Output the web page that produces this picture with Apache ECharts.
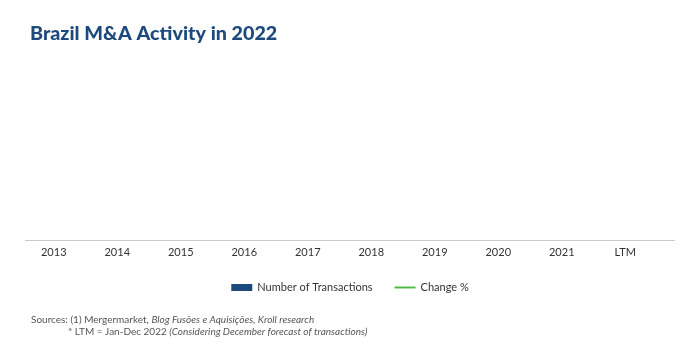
<!DOCTYPE html>
<html>
<head>
<meta charset="utf-8">
<script src="https://cdn.jsdelivr.net/npm/echarts@6/dist/echarts.min.js"></script>
<style>html,body{margin:0;padding:0;background:#fff}#c{width:700px;height:364px}</style>
</head>
<body>
<div id="c"></div>
<script>
const categories = ['2013','2014','2015','2016','2017','2018','2019','2020','2021','LTM'];
// No marks are visible in the reference: values are not shown
const transactions = [null,null,null,null,null,null,null,null,null,null];
const changePct = [null,null,null,null,null,null,null,null,null,null];
const titleText = 'Brazil M&A Activity in 2022';

const chart = echarts.init(document.getElementById('c'));
chart.setOption({
  backgroundColor: '#ffffff',
  animation: false,
  title: [{
    text: titleText,
    left: 25, top: 19,
    textStyle: {fontFamily: 'Lato', fontWeight: 900, fontSize: 19.7, color: '#1d4a7c'}
  },{
    left: 26, top: 309,
    text: '{n|Sources: (1) Mergermarket, }{i|Blog Fusões e Aquisições, Kroll research}\n{p|}{n|* LTM = Jan-Dec 2022 }{i|(Considering December forecast of transactions)}',
    textStyle: {
      fontWeight: 'normal',
      lineHeight: 12,
      rich: {
        n: {fontFamily: 'Lato', fontSize: 10, fontWeight: 'normal', color: '#555', lineHeight: 12},
        i: {fontFamily: 'Lato', fontSize: 10, fontWeight: 'normal', fontStyle: 'italic', color: '#555', lineHeight: 12},
        p: {width: 37, lineHeight: 12}
      }
    }
  }],
  legend: {
    left: 'center', top: 277,
    itemGap: 22,
    textStyle: {fontFamily: 'Lato', fontSize: 11, color: '#333'},
    data: [
      {name: 'Number of Transactions', icon: 'rect', itemStyle: {color: '#1d4a7c'}},
      {name: 'Change %', icon: 'path://M0,0 L100,0 L100,9 L0,9 Z', itemStyle: {color: '#4cb944'}}
    ],
    itemWidth: 21, itemHeight: 7
  },
  grid: {left: 22, right: 43, top: 60, bottom: 124},
  xAxis: {
    type: 'category', data: categories,
    axisLine: {show: false},
    axisTick: {show: false},
    axisLabel: {fontFamily: 'Lato', fontSize: 11, color: '#333', margin: 7}
  },
  yAxis: [{type: 'value', show: false, min: 0, max: 100}, {type: 'value', show: false, min: -50, max: 50}],
  graphic: [{
    type: 'line', shape: {x1: 25, y1: 240.5, x2: 675, y2: 240.5},
    style: {stroke: '#c8c8c8', lineWidth: 1}
  }],
  series: [{
    name: 'Number of Transactions', type: 'bar', data: transactions,
    itemStyle: {color: '#1d4a7c'}
  },{
    name: 'Change %', type: 'line', yAxisIndex: 1, data: changePct,
    symbol: 'none', lineStyle: {color: '#4cb944', width: 2}, itemStyle: {color: '#4cb944'}
  }]
});
</script>
</body>
</html>
